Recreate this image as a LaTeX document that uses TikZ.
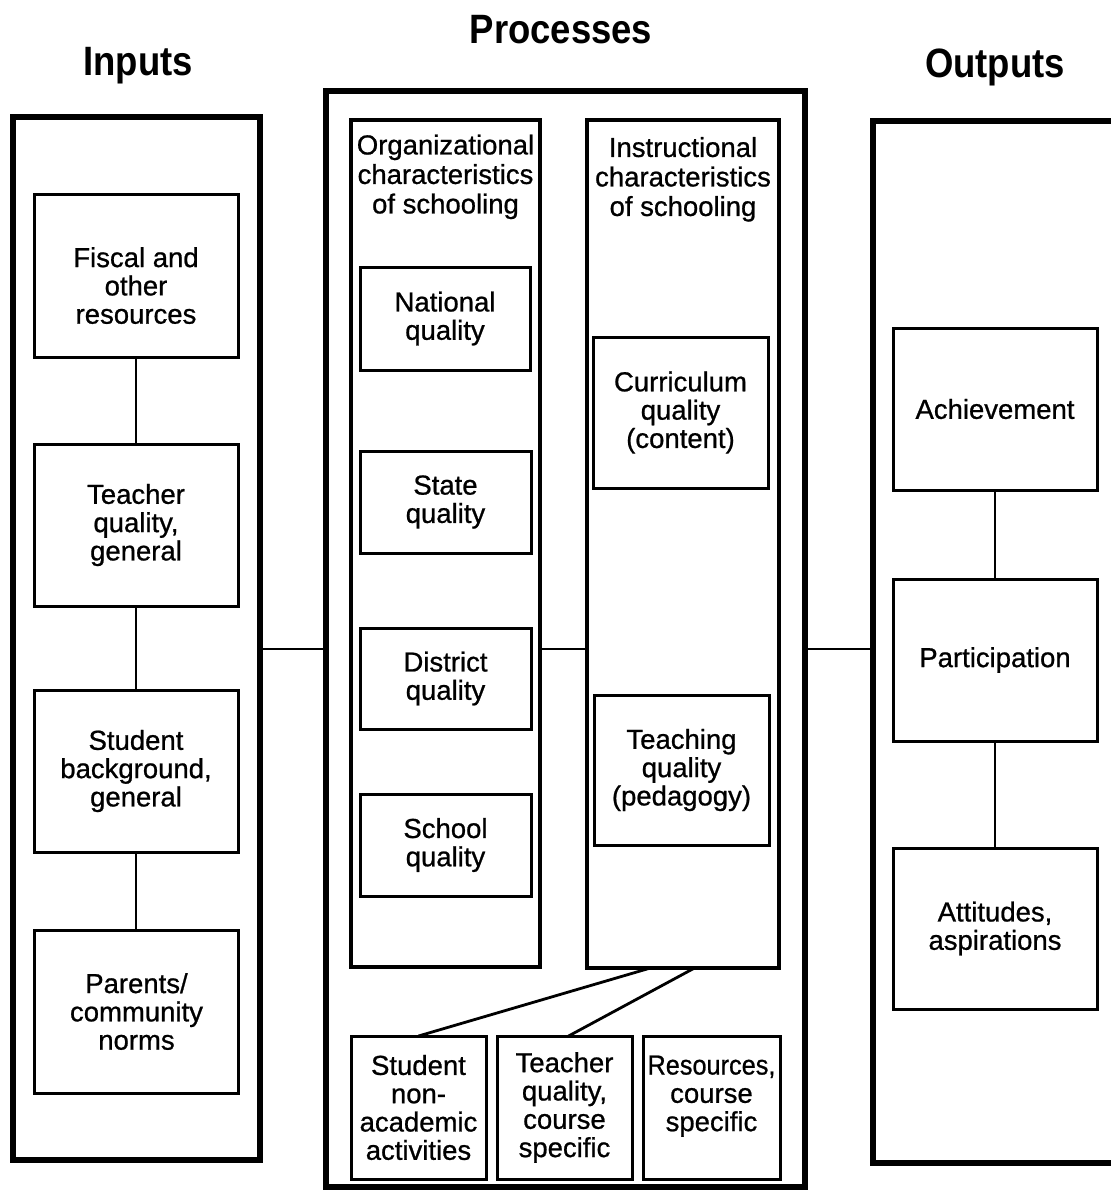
\documentclass[tikz,border=0pt]{standalone}
\usepackage{fontspec}
\usepackage{graphicx}
\setmainfont{Liberation Sans}
\newfontfamily\bodyfam{Liberation Sans}[FakeBold=0.8]
\usetikzlibrary{calc}
\newcommand\bodyfont{\bodyfam\fontsize{27.5}{28.3}\selectfont}
\newcommand\hdfont{\bodyfam\fontsize{27.5}{29.5}\selectfont}
\newcommand\headfont{\fontsize{41}{45}\selectfont\bfseries}
\begin{document}
\begin{tikzpicture}[x=1pt,y=-1pt,
  outerbox/.style={draw, line width=6.5pt, inner sep=0pt, outer sep=0pt},
  midbox/.style={draw, line width=4.5pt, inner sep=0pt, outer sep=0pt},
  ibox/.style={draw, line width=3pt, inner sep=0pt, outer sep=0pt, align=center, font=\bodyfont},
  htext/.style={inner sep=0pt, outer sep=0pt, align=center, font=\hdfont, anchor=north},
  ttl/.style={inner sep=0pt, anchor=base, font=\headfont},
  conn/.style={line width=2.8pt}]
\clip (0,0) rectangle (1111,1192);
\fill[white] (0,0) rectangle (1111,1192);

% titles
\node[ttl] (tin) at (138,75) {\scalebox{0.89}[1]{Inputs}};
\node[ttl] (tproc) at (561,43) {\scalebox{0.89}[1]{Processes}};
\node[ttl] (tout) at (995,77) {\scalebox{0.89}[1]{Outputs}};

% Inputs
\node[outerbox, minimum width=247pt, minimum height=1043pt] (inputs) at (136.5,638.5) {};
\node[ibox, minimum width=204pt, minimum height=163pt] (fiscal) at (136,275.5) {\rule{0pt}{40pt}Fiscal and\\other\\resources};
\node[ibox, minimum width=204pt, minimum height=162pt] (tgen) at (136,525) {Teacher\\quality,\\general};
\node[ibox, minimum width=204pt, minimum height=162pt] (sbg) at (136,771) {Student\\background,\\general};
\node[ibox, minimum width=204pt, minimum height=163pt] (parents) at (136.5,1011.5) {Parents/\\community\\norms};

% Processes
\node[outerbox, minimum width=479pt, minimum height=1096pt] (processes) at (565.5,639) {};
\node[midbox, minimum width=189pt, minimum height=847pt] (org) at (445.5,543.5) {};
\node[midbox, minimum width=192pt, minimum height=848pt] (instr) at (683,544) {};
\node[htext] (orghead) at (445.5,134.5) {Organizational\\characteristics\\of schooling};
\node[htext] (instrhead) at (683,137) {Instructional\\characteristics\\of schooling};

\node[ibox, minimum width=170pt, minimum height=103pt] (national) at (445,318.5) {National\\quality};
\node[ibox, minimum width=171pt, minimum height=102pt] (state) at (445.5,502) {State\\quality};
\node[ibox, minimum width=171pt, minimum height=101pt] (district) at (445.5,678.5) {District\\quality};
\node[ibox, minimum width=171pt, minimum height=102pt] (school) at (445.5,845) {School\\quality};

\node[ibox, minimum width=175pt, minimum height=151pt] (curr) at (680.5,412.5) {Curriculum\\quality\\(content)};
\node[ibox, minimum width=175pt, minimum height=150pt] (teach) at (681.5,770) {Teaching\\quality\\(pedagogy)};

\node[ibox, minimum width=135pt, minimum height=143pt] (b1) at (418.5,1107.5) {Student\\non-\\academic\\activities};
\node[ibox, minimum width=135pt, minimum height=143pt] (b2) at (564.5,1107.5) {Teacher\\quality,\\course\\specific};
\node[ibox, minimum width=137pt, minimum height=143pt] (b3) at (711.5,1107.5) {\scalebox{0.92}[1]{Resources,}\\course\\specific\\\mbox{}};

% Outputs
\node[outerbox, minimum width=262pt, minimum height=1042pt] (outputs) at (1004,642) {};
\node[ibox, minimum width=204pt, minimum height=162pt] (ach) at (995,409) {Achievement};
\node[ibox, minimum width=204pt, minimum height=162pt] (part) at (995,660) {Participation};
\node[ibox, minimum width=204pt, minimum height=161pt] (att) at (995,928.5) {Attitudes,\\aspirations};

% connectors
\coordinate (midy) at (0,649);
\draw[conn] (fiscal.south) -- (tgen.north);
\draw[conn] (tgen.south) -- (sbg.north);
\draw[conn] (sbg.south) -- (parents.north -| sbg.south);
\draw[conn] (inputs.east |- midy) -- (processes.west |- midy);
\draw[conn] (org.east |- midy) -- (instr.west |- midy);
\draw[conn] (processes.east |- midy) -- (outputs.west |- midy);
\draw[conn] (ach.south) -- (part.north);
\draw[conn] (part.south) -- (att.north);
\draw[conn] ($(instr.south west)!0.33!(instr.south east)$) -- (b1.north);
\draw[conn] ($(instr.south west)!0.56!(instr.south east)$) -- ($(b2.north west)!0.53!(b2.north east)$);
\draw[conn] ($(b3.north west)!0.53!(b3.north east)$) -- ($(b3.north west)!0.53!(b3.north east)$ |- instr.south);
\end{tikzpicture}
\end{document}
